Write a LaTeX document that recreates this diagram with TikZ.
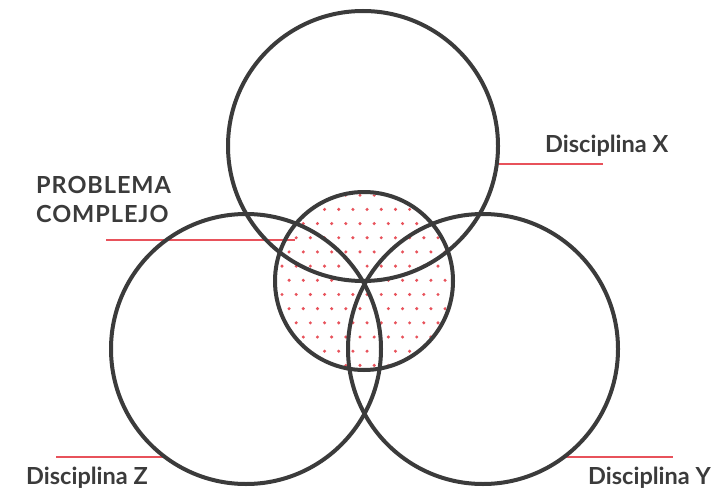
\documentclass[tikz,border=0pt]{standalone}
\usepackage{fontspec}
\setmainfont{Lato}
\definecolor{ink}{HTML}{3B3B3B}
\definecolor{accent}{HTML}{E8525B}
\pgfdeclarelayer{bg}
\pgfsetlayers{bg,main}
\begin{document}
\begin{tikzpicture}[x=1pt,y=-1pt,
  ring/.style={circle,draw=ink,line width=4pt,minimum size=#1,inner sep=0pt},
  lead/.style={draw=accent,line width=2pt},
  lbl/.style={text=ink,font=\fontsize{23.5}{29}\selectfont\bfseries,inner sep=0pt}]
\useasboundingbox (0,0) rectangle (725,492);
% circles
\node[ring=270pt] (cx) at (363,146) {};
\node[ring=270pt] (cz) at (246,349) {};
\node[ring=270pt] (cy) at (483,349) {};
\node[ring=178pt] (cm) at (364,281) {};
% labels
\node[lbl,anchor=base west] (lx) at (545,152.3) {Disciplina X};
\node[lbl,anchor=base west] (lz) at (26,484.3) {Disciplina Z};
\node[lbl,anchor=base west] (ly) at (588,484.3) {Disciplina Y};
\node[lbl,anchor=north west,align=left] (lp) at (36,176) {\addfontfeatures{LetterSpace=4}PROBLEMA\\\addfontfeatures{LetterSpace=4}COMPLEJO};
% leader ends
\coordinate (xend) at (603,164);
\coordinate (zend) at (56,457);
\coordinate (yend) at (672.7,457);
\coordinate (pa) at (106,240);
\coordinate (pb) at (295,240);
\begin{pgfonlayer}{bg}
  \fill[white] (0,0) rectangle (725,492);
  \begin{scope}
    \clip (cm.center) circle[radius=87];
    \foreach \i in {-6,...,6}{
      \pgfmathsetmacro\yy{280.3+14.18*\i}
      \pgfmathsetmacro\off{mod(abs(\i),2)*7.09}
      \foreach \k in {-7,...,7}{
        \fill[accent] ({360+\off+14.18*\k},\yy) circle[radius=1.7];
      }
    }
  \end{scope}
  \draw[lead] (xend -| cx.352.4) -- (xend);
  \draw[lead] (zend) -- (zend -| cz.233.1);
  \draw[lead] (yend -| cy.306.9) -- (yend);
  \draw[lead] (pa) -- (pb);
\end{pgfonlayer}
\end{tikzpicture}
\end{document}
